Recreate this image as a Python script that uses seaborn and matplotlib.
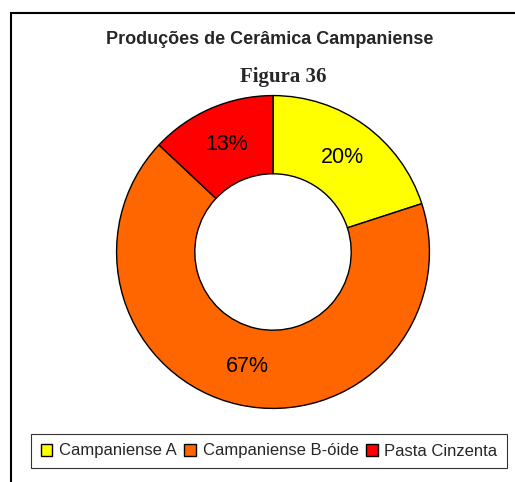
import numpy as np
import seaborn as sns
import matplotlib.pyplot as plt
from matplotlib.patches import Rectangle, Patch

# data
labels = ["Campaniense A", "Campaniense B-óide", "Pasta Cinzenta"]
values = [20, 67, 13]
colors = ["#FFFF00", "#FF6600", "#FF0000"]

sns.set_theme(style="white")
plt.rcParams['font.family'] = ['Liberation Sans', 'DejaVu Sans']

fig = plt.figure(figsize=(5.15, 4.82), dpi=100)

# outer chart frame (runs off the right and bottom edges)
fig.patches.append(Rectangle((11 / 515, -0.05), 1.0, 1 - 13 / 482 + 0.05,
                             transform=fig.transFigure, fill=False,
                             edgecolor="black", linewidth=1.5))

ax = fig.add_axes([115 / 515, (482 - 410) / 482, 316 / 515, 316 / 482])
wedges, texts, autotexts = ax.pie(
    values, colors=colors, startangle=90, counterclock=False,
    autopct="%1.0f%%", pctdistance=0.75,
    wedgeprops=dict(width=0.5, edgecolor="black", linewidth=1.0),
    textprops=dict(fontsize=15.5, color="black"))
ax.set_xlim(-1.01, 1.01)
ax.set_ylim(-1.01, 1.01)
ax.set_aspect("equal")
ax.axis("off")

fig.text(270 / 515, 1 - 40 / 482, "Produções de Cerâmica Campaniense",
         ha="center", va="center", fontsize=13, fontweight="bold")
fig.text(283 / 515, 1 - 77 / 482, "Figura 36", ha="center", va="center",
         fontsize=15, fontweight="bold", family="Liberation Serif")

handles = [Patch(facecolor=c, edgecolor="black", linewidth=1.0) for c in colors]
leg = fig.legend(handles, labels, loc="center", ncol=3,
                 bbox_to_anchor=(269 / 515, 1 - 451 / 482),
                 frameon=True, fancybox=False, fontsize=12,
                 handlelength=0.7, handleheight=0.7, handletextpad=0.4,
                 columnspacing=0.45, borderpad=0.55, borderaxespad=0)
leg.get_frame().set_edgecolor("black")
leg.get_frame().set_linewidth(0.8)

fig.savefig("out.png", dpi=100)
